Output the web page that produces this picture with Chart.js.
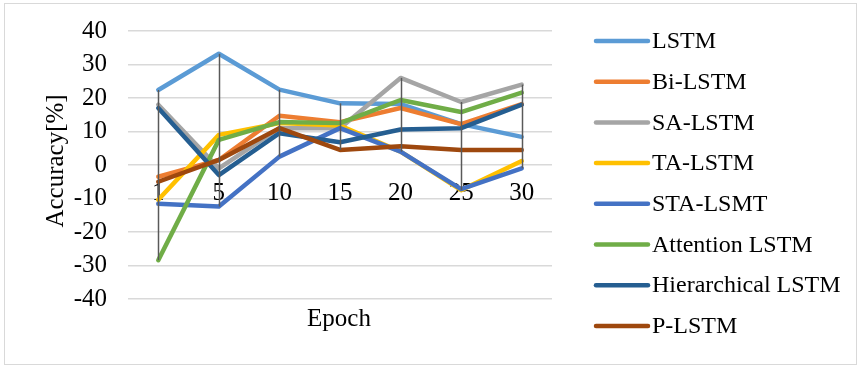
<!DOCTYPE html>
<html><head><meta charset="utf-8">
<script src="https://cdn.jsdelivr.net/npm/chart.js@4"></script>
<style>html,body{margin:0;padding:0;background:#fff;}canvas{display:block;}</style>
</head><body>
<canvas id="c" width="861" height="367"></canvas>
<script>
const categories = ['1','5','10','15','20','25','30'];
const seriesNames = ['LSTM','Bi-LSTM','SA-LSTM','TA-LSTM','STA-LSMT','Attention LSTM','Hierarchical LSTM','P-LSTM'];
const lstm        = [22.4, 33.2, 22.5, 18.4, 18.2, 12.2, 8.4];
const biLstm      = [-3.5, 1.5, 14.7, 12.8, 17.0, 12.2, 18.2];
const saLstm      = [18.0, -1.0, 11.0, 11.0, 26.0, 18.8, 24.0];
const taLstm      = [-10.4, 9.0, 12.5, 11.8, 4.0, -7.5, 1.2];
const staLsmt     = [-11.6, -12.4, 2.5, 11.0, 4.0, -7.2, -1.0];
const attention   = [-28.4, 7.5, 12.8, 12.5, 19.4, 15.8, 21.6];
const hierarchical= [17.0, -3.0, 9.5, 6.8, 10.6, 11.0, 18.0];
const pLstm       = [-5.0, 1.5, 11.0, 4.5, 5.6, 4.5, 4.5];
const yTicks = [-40,-30,-20,-10,0,10,20,30,40];

const allSeries = [lstm, biLstm, saLstm, taLstm, staLsmt, attention, hierarchical, pLstm];
const colors = ['#5B9BD5','#ED7D31','#A5A5A5','#FFC000','#4472C4','#70AD47','#255E91','#9E480E'];
const FONT = '"Liberation Serif", "Times New Roman", serif';

const datasets = allSeries.map((d,i)=>({
  label: seriesNames[i], data: d, borderColor: colors[i], backgroundColor: colors[i],
  borderWidth: 4.5, pointRadius: 0, tension: 0, borderCapStyle:'round', borderJoinStyle:'round',
  order: allSeries.length - i
}));

function noPad(scale){ scale.paddingTop = 0; scale.paddingBottom = 0; scale.paddingLeft = 0; scale.paddingRight = 0; }

const extras = {
  id: 'extras',
  beforeDraw(chart){
    const ctx = chart.ctx;
    ctx.save();
    ctx.fillStyle = '#fff';
    ctx.fillRect(0,0,chart.width,chart.height);
    ctx.strokeStyle = '#d9d9d9'; ctx.lineWidth = 1;
    ctx.strokeRect(4.5,3.5,852,361);
    ctx.restore();
  },
  afterDatasetsDraw(chart){
    const ctx = chart.ctx, xs = chart.scales.x, ys = chart.scales.y;
    ctx.save();
    // high-low lines
    ctx.strokeStyle = '#595959'; ctx.lineWidth = 1.5;
    categories.forEach((c,j)=>{
      const vals = allSeries.map(s=>s[j]);
      const x = Math.round(xs.getPixelForValue(j)) + 0.5;
      ctx.beginPath();
      ctx.moveTo(x, ys.getPixelForValue(Math.max(...vals)));
      ctx.lineTo(x, ys.getPixelForValue(Math.min(...vals)));
      ctx.stroke();
    });
    // axis titles
    ctx.fillStyle = '#000';
    ctx.font = '25px ' + FONT;
    ctx.textAlign = 'center'; ctx.textBaseline = 'middle';
    ctx.fillText('Epoch', 339, 319);
    ctx.translate(56, 161); ctx.rotate(-Math.PI/2);
    ctx.fillText('Accuracy[%]', 0, 0);
    ctx.restore();
    // legend
    ctx.save();
    ctx.font = '24px ' + FONT;
    ctx.textAlign = 'left'; ctx.textBaseline = 'middle';
    seriesNames.forEach((n,i)=>{
      const y = 41 + i*40.7;
      ctx.strokeStyle = colors[i]; ctx.lineWidth = 4.5; ctx.lineCap = 'round';
      ctx.beginPath(); ctx.moveTo(596, y); ctx.lineTo(648, y); ctx.stroke();
      ctx.fillStyle = '#000';
      ctx.fillText(n, 652, y + 1);
    });
    ctx.restore();
  }
};

new Chart(document.getElementById('c'), {
  type: 'line',
  data: { labels: categories, datasets },
  options: {
    responsive: false, animation: false, devicePixelRatio: 1,
    layout: { padding: { left: 0, top: 31, right: 309, bottom: 68 } },
    plugins: { legend: { display: false }, tooltip: { enabled: false } },
    scales: {
      x: {
        type: 'category', offset: true, position: { y: 0 },
        afterFit(scale){ noPad(scale); },
        grid: { display: false, drawTicks: false }, border: { display: false },
        ticks: { color: '#000', font: { family: FONT, size: 25 }, padding: 13, maxRotation: 0 }
      },
      y: {
        min: -40, max: 40,
        afterFit(scale){ scale.width = 128; noPad(scale); },
        afterBuildTicks(scale){ scale.ticks = yTicks.map(v=>({value:v})); },
        grid: { color: '#d9d9d9', lineWidth: 1.5, drawTicks: false }, border: { display: false },
        ticks: { color: '#000', font: { family: FONT, size: 25 }, padding: 21 }
      }
    }
  },
  plugins: [extras]
});
</script>
</body></html>
